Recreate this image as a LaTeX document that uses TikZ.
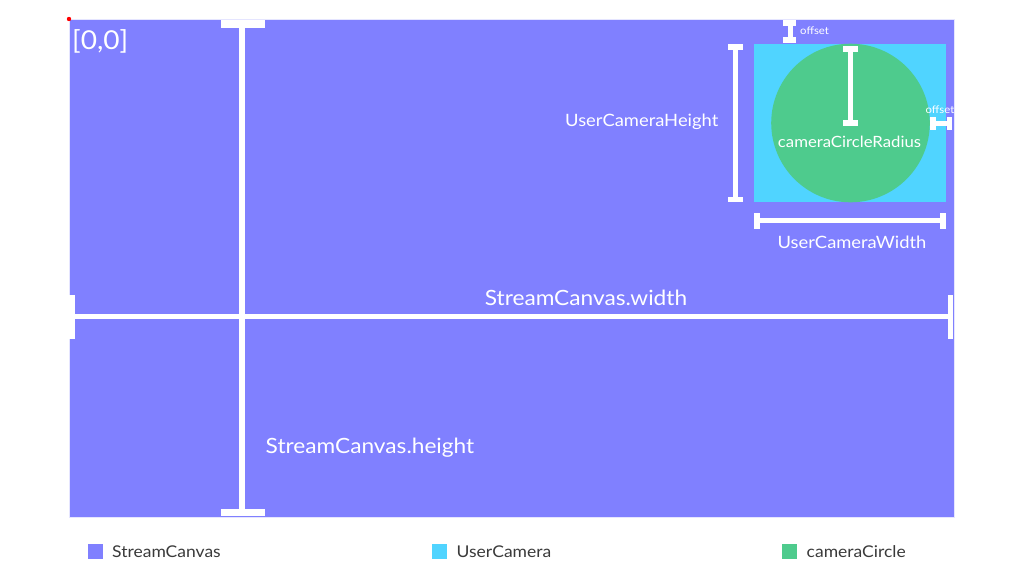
\documentclass[tikz,border=0pt]{standalone}
\usepackage{fontspec}
\setmainfont{Lato}[FakeStretch=1.08]
\definecolor{canvasc}{HTML}{8080FF}
\definecolor{camc}{HTML}{50D4FF}
\definecolor{circc}{HTML}{4ECB8D}
\definecolor{legtext}{HTML}{3A3A3A}
\tikzset{
  bar/.style={fill=white,draw=none},
  wlabel/.style={text=white,inner sep=0pt},
  leglabel/.style={text=legtext,inner sep=0pt,anchor=west,font=\fontsize{16.2}{19}\selectfont},
  legbox/.style={draw=none,minimum size=15pt,inner sep=0pt}
}
\begin{document}
\begin{tikzpicture}[x=1pt,y=-1pt]
\useasboundingbox[fill=white] (0,0) rectangle (1024,576);
% main canvas
\fill[canvasc] (69,19) rectangle (954,517);
\draw[white!80!canvasc,line width=0.8pt] (69,19) rectangle (954,517);
% user camera and circle
\fill[camc] (754,44) rectangle (946,202);
\fill[circc] (850.5,123) circle (79.3);
% height dimension (vertical)
\fill[bar] (239,20) rectangle (245,516);
\fill[bar] (221,20) rectangle (265,27.5);
\fill[bar] (221,509) rectangle (265,516);
% width dimension (horizontal)
\fill[bar] (69,314) rectangle (953,319);
\fill[bar] (69,295) rectangle (74.5,339);
\fill[bar] (948,295) rectangle (953,339);
% user camera height
\fill[bar] (733,44) rectangle (738,202);
\fill[bar] (728,44) rectangle (743,49.5);
\fill[bar] (728,196.5) rectangle (743,202);
% radius
\fill[bar] (848,46) rectangle (853,126);
\fill[bar] (843,46) rectangle (858,52);
\fill[bar] (843,120) rectangle (858,126);
% top offset
\fill[bar] (787.5,20) rectangle (792.5,43);
\fill[bar] (783,20) rectangle (796,25.5);
\fill[bar] (783,37) rectangle (796,43);
% right offset
\fill[bar] (930,121) rectangle (952,125.5);
\fill[bar] (930,117) rectangle (935.5,129.5);
\fill[bar] (946.5,117) rectangle (952,129.5);
% user camera width
\fill[bar] (754,218) rectangle (946,223);
\fill[bar] (754,213) rectangle (760,228.5);
\fill[bar] (940,213) rectangle (946,228.5);
% origin dot
\fill[red] (69,19) circle (2.2);
% labels
\node[wlabel,anchor=west,font=\fontsize{26}{30}\selectfont] (origin) at (72,41) {[0,0]};
\node[wlabel,anchor=west,font=\fontsize{10.5}{12}\selectfont] (offtop) at (800,31) {offset};
\node[wlabel,anchor=center,font=\fontsize{10.5}{12}\selectfont] (offright) at (940,109.5) {offset};
\node[wlabel,anchor=center,font=\fontsize{15.5}{19}\selectfont] (radius) at (849.5,142) {cameraCircleRadius};
\node[wlabel,anchor=center,font=\fontsize{17}{20}\selectfont] (ucw) at (852,242) {UserCameraWidth};
\node[wlabel,anchor=east,font=\fontsize{17}{20}\selectfont] (uch) at (718.5,122) {UserCameraHeight};
\node[wlabel,anchor=center,font=\fontsize{21}{25}\selectfont] (scw) at (586,298) {StreamCanvas.width};
\node[wlabel,anchor=west,font=\fontsize{21}{25}\selectfont] (sch) at (265.5,447.5) {StreamCanvas.height};
% legend
\node[legbox,fill=canvasc] (lg1) at (95,551) {};
\node[leglabel] (lt1) at (112,552) {StreamCanvas};
\node[legbox,fill=camc] (lg2) at (439,551) {};
\node[leglabel] (lt2) at (456.5,552) {UserCamera};
\node[legbox,fill=circc] (lg3) at (789,551) {};
\node[leglabel] (lt3) at (806.5,552) {cameraCircle};
\end{tikzpicture}
\end{document}
